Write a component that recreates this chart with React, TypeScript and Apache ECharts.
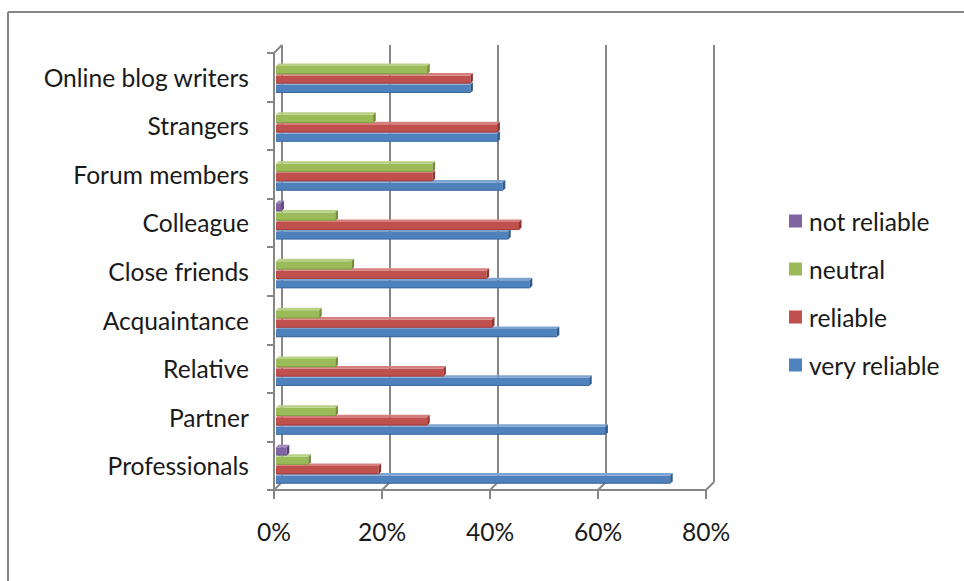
import React, { useEffect, useRef } from "react";
import * as echarts from "echarts";

// Respondents' trust in recommendations, by source (share of answers)
const categories = [
  "Online blog writers",
  "Strangers",
  "Forum members",
  "Colleague",
  "Close friends",
  "Acquaintance",
  "Relative",
  "Partner",
  "Professionals",
];

const veryReliable = [36, 41, 42, 43, 47, 52, 58, 61, 73];
const reliable = [36, 41, 29, 45, 39, 40, 31, 28, 19];
const neutral = [28, 18, 29, 11, 14, 8, 11, 11, 6];
const notReliable = [0, 0, 0, 1, 0, 0, 0, 0, 2];

const axisTicks = [0, 20, 40, 60, 80];

const FONT = "Lato, 'Noto Sans', sans-serif";
const FONT_SIZE = 24.6;
const TEXT = "#1a1a1a";
const FRAME = "#868686";
const DEPTH = 8; // floor depth of the 3-D frame
const EDGE = 2.5; // bar bevel depth

type Palette = { front: string; top: string; side: string };

const seriesDefs: { name: string; values: number[]; slot: number; pal: Palette }[] = [
  { name: "very reliable", values: veryReliable, slot: 3, pal: { front: "#4F81BD", top: "#7FA3D0", side: "#2F5A8E" } },
  { name: "reliable", values: reliable, slot: 2, pal: { front: "#C0504D", top: "#D6807D", side: "#8E3431" } },
  { name: "neutral", values: neutral, slot: 1, pal: { front: "#9BBB59", top: "#B9D186", side: "#6F8A38" } },
  { name: "not reliable", values: notReliable, slot: 0, pal: { front: "#8064A2", top: "#A08BBC", side: "#5A437A" } },
];

function barRenderer(slot: number, pal: Palette) {
  return (params: any, api: any) => {
    const v = api.value(0);
    const cat = api.value(1);
    if (!(v > 0)) return null;
    const start = api.coord([0, cat]);
    const end = api.coord([v, cat]);
    const band = api.size([0, 1])[1];
    const total = band * 0.77;
    const h = total / 4;
    const y0 = start[1] - total / 2 + slot * h + EDGE;
    const hh = h - EDGE * 0.5;
    const x0 = start[0];
    const x1 = end[0];
    return {
      type: "group",
      children: [
        {
          type: "rect",
          shape: { x: x0, y: y0, width: x1 - x0, height: hh },
          style: { fill: pal.front },
        },
        {
          type: "line",
          shape: { x1: x0, y1: y0 + hh - 0.5, x2: x1, y2: y0 + hh - 0.5 },
          style: { stroke: pal.side, lineWidth: 1, opacity: 0.6 },
        },
        {
          type: "polygon",
          shape: {
            points: [
              [x0, y0],
              [x0 + EDGE, y0 - EDGE],
              [x1 + EDGE, y0 - EDGE],
              [x1, y0],
            ],
          },
          style: { fill: pal.top },
        },
        {
          type: "polygon",
          shape: {
            points: [
              [x1, y0],
              [x1 + EDGE, y0 - EDGE],
              [x1 + EDGE, y0 + hh - EDGE],
              [x1, y0 + hh],
            ],
          },
          style: { fill: pal.side },
        },
      ],
    };
  };
}

// Diagonal floor edges joining each front tick to its back-wall gridline
function frameRenderer(params: any, api: any) {
  const v = api.value(0);
  const p = api.coord([v, 0]);
  const cs = params.coordSys;
  const yb = cs.y + cs.height;
  const style = { stroke: FRAME, lineWidth: 2 };
  const children: any[] = [
    { type: "line", shape: { x1: p[0], y1: yb, x2: p[0] + DEPTH, y2: yb - DEPTH }, style },
  ];
  if (v === 0) {
    children.push({
      type: "line",
      shape: { x1: p[0], y1: cs.y, x2: p[0] + DEPTH, y2: cs.y - DEPTH },
      style,
    });
  }
  return { type: "group", children };
}

export default function App() {
  const ref = useRef<HTMLDivElement>(null);

  useEffect(() => {
    if (!ref.current) return;
    const chart = echarts.init(ref.current, undefined, { renderer: "svg" });

    const valueAxis = (gridIndex: number) => ({
      type: "value" as const,
      gridIndex,
      min: 0,
      max: 80,
      interval: 20,
    });

    chart.setOption({
      animation: false,
      backgroundColor: "#ffffff",
      grid: [
        // bars
        { left: 276, top: 48.5, width: 432, height: 439.5 },
        // front axes with labels
        { left: 274, top: 53, width: 432, height: 437 },
        // back wall
        { left: 274 + DEPTH, top: 53 - DEPTH, width: 432, height: 437 },
      ],
      xAxis: [
        { ...valueAxis(0), show: false },
        {
          ...valueAxis(1),
          axisLine: { show: true, lineStyle: { color: FRAME, width: 2 } },
          axisTick: { show: true, length: 9, lineStyle: { color: FRAME, width: 2 } },
          axisLabel: {
            formatter: "{value}%",
            fontFamily: FONT,
            fontSize: FONT_SIZE,
            color: TEXT,
            margin: 29,
          },
          splitLine: { show: false },
        },
        {
          ...valueAxis(2),
          axisLine: { show: false },
          axisTick: { show: false },
          axisLabel: { show: false },
          splitLine: { show: true, lineStyle: { color: FRAME, width: 2 } },
        },
      ],
      yAxis: [
        { type: "category", gridIndex: 0, data: categories, inverse: true, show: false },
        {
          type: "category",
          gridIndex: 1,
          data: categories,
          inverse: true,
          axisLine: { show: true, lineStyle: { color: FRAME, width: 2 } },
          axisTick: { show: true, length: 7, lineStyle: { color: FRAME, width: 2 } },
          axisLabel: {
            fontFamily: FONT,
            fontSize: FONT_SIZE,
            color: TEXT,
            margin: 25,
          },
        },
        { type: "category", gridIndex: 2, data: categories, inverse: true, show: false },
      ],
      legend: {
        orient: "vertical",
        left: 784,
        top: 202,
        itemWidth: 13,
        itemHeight: 13,
        itemGap: 20,
        icon: "rect",
        data: ["not reliable", "neutral", "reliable", "very reliable"],
        textStyle: {
          fontFamily: FONT,
          fontSize: FONT_SIZE,
          lineHeight: 28,
          color: TEXT,
          padding: [0, 0, 0, 2],
        },
      },
      graphic: [
        { type: "line", shape: { x1: 8, y1: 12, x2: 964, y2: 12 }, style: { stroke: FRAME, lineWidth: 2 } },
        { type: "line", shape: { x1: 8, y1: 12, x2: 8, y2: 581 }, style: { stroke: FRAME, lineWidth: 2 } },
      ],
      series: [
        ...seriesDefs.map((s) => ({
          type: "custom" as const,
          name: s.name,
          xAxisIndex: 0,
          yAxisIndex: 0,
          itemStyle: { color: s.pal.front },
          encode: { x: 0, y: 1 },
          data: s.values.map((v, i) => [v, i]),
          renderItem: barRenderer(s.slot, s.pal),
          z: 3,
        })),
        {
          type: "custom" as const,
          name: "frame",
          xAxisIndex: 1,
          yAxisIndex: 1,
          silent: true,
          encode: { x: 0, y: 1 },
          data: axisTicks.map((t) => [t, 0]),
          renderItem: frameRenderer,
          z: 1,
        },
      ],
    });

    return () => chart.dispose();
  }, []);

  return (
    <div
      ref={ref}
      style={{ position: "fixed", left: 0, top: 0, width: 964, height: 581, background: "#fff" }}
    />
  );
}
